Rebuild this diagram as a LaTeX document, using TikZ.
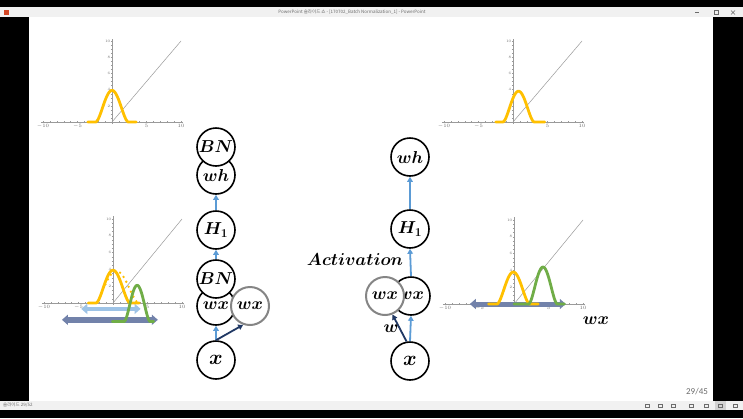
\documentclass[tikz,border=0pt]{standalone}
\usepackage{amsmath}
\usepackage{fontspec}
\newfontfamily\cjk{Noto Sans CJK KR}
\newfontfamily\uifont{Carlito}
\usetikzlibrary{arrows.meta}
\definecolor{cyellow}{HTML}{FFC000}
\definecolor{cgreen}{HTML}{70AD47}
\definecolor{clblue}{HTML}{9DC3E6}
\definecolor{cslate}{HTML}{7282AA}
\definecolor{cblue}{HTML}{5B9BD5}
\definecolor{cnavy}{HTML}{203864}
\definecolor{cring}{HTML}{858585}
\definecolor{caxis}{HTML}{9A9A9A}
\definecolor{cgrey}{HTML}{6B6B6B}
\definecolor{cbar}{HTML}{F1F1F1}
\definecolor{cred}{HTML}{D24726}
\tikzset{
  neuron/.style={circle, draw=black, line width=1.6pt, fill=white, minimum size=38pt, inner sep=0pt, font=\fontsize{17}{20}\selectfont},
  ghost/.style={neuron, draw=cring, line width=2pt},
  flow/.style={-{Triangle[length=5pt, width=5.5pt]}, draw=cblue, line width=1.8pt},
  wlink/.style={-{Triangle[length=5pt, width=5.5pt]}, draw=cnavy, line width=1.8pt},
  axis/.style={draw=caxis, line width=0.4pt},
  bell/.style={line width=2.8pt, line join=round, line cap=round},
  ticklbl/.style={font=\fontsize{3.6}{4}\selectfont, text=cgrey, inner sep=0.6pt},
  spread/.style={{Triangle[length=6pt, width=10pt]}-{Triangle[length=6pt, width=10pt]}},
  mathlbl/.style={font=\fontsize{#1}{#1}\selectfont, inner sep=0pt},
  mathlbl/.default=17,
  uitext/.style={font=\cjk\fontsize{4.5}{5}\selectfont, text=cgrey, inner sep=0pt},
}
\newcommand\drawaxes[1]{
  \draw[axis] (-10.3,0) -- (10.3,0);
  \draw[axis] (0,-0.2) -- (0,10.3);
  \foreach \i in {-10,...,10} \draw[axis, line width=0.3pt] (\i,-0.12) -- (\i,0.12);
  \foreach \j in {0.5,1,...,10} \draw[axis, line width=0.3pt] (-0.15,\j) -- (0.15,\j);
  \foreach \i/\n in {-10/a,-5/b,5/c,10/d} \node[ticklbl, below] (#1x\n) at (\i,-0.15) {$\i$};
  \foreach \j in {2,4,...,10} \node[ticklbl, left] (#1y\j) at (-0.15,\j) {\j};
  \draw[axis, line width=0.5pt] (0,0) -- (10,10);
}
% bump: centre, half width, height
\newcommand\bump[3]{(#3)*max(0, 1-((\x-(#1))/(#2))^2)*max(0, 1-((\x-(#1))/(#2))^2)}

\begin{document}
\begin{tikzpicture}[x=1pt, y=-1pt]
  \useasboundingbox (0,0) rectangle (743,418);
  \fill[black] (0,0) rectangle (743,418);
  \fill[cbar] (0,7) rectangle (743,17);
  \fill[white] (29,17) rectangle (713,401);
  \fill[cbar] (0,401) rectangle (743,410);
  \fill[cred] (4,9.5) rectangle (9,15);
  \node[uitext] (wintitle) at (352,12) {PowerPoint 슬라이드 쇼 - [170702\_Batch Normalization\_1] - PowerPoint};
  \draw[cgrey, line width=0.4pt] (695,12.5) -- (699,12.5);
  \draw[cgrey, line width=0.4pt] (714,10.5) rectangle (718,14.5);
  \draw[cgrey, line width=0.4pt] (731,10.5) -- (735,14.5) (731,14.5) -- (735,10.5);
  \node[uitext, anchor=west] (status) at (3,405.5) {슬라이드 29/52};
  \fill[gray!35] (715,401) rectangle (726,410);
  \foreach \xx in {647,660,673,691,706,720,735} \draw[cgrey, line width=0.4pt] (\xx-2,403.7) rectangle (\xx+2,407.3);
  \node[font=\uifont\fontsize{9}{10}\selectfont, text=cgrey, inner sep=0pt] (pageno) at (697,392) {29/45};

  \begin{scope}[xshift=112pt, yshift=-122pt, x=6.9pt, y=8.1pt]
    \drawaxes{pa}
    \draw[bell, cyellow] plot[domain=-3.5:3.5, samples=141] (\x, {\bump{0}{2.4}{3.9}});
  \end{scope}

  \begin{scope}[xshift=513pt, yshift=-122pt, x=6.9pt, y=8.1pt]
    \drawaxes{pb}
    \draw[bell, cyellow] plot[domain=-2.5:4.6, samples=143] (\x, {\bump{0.8}{2.3}{3.8}});
  \end{scope}

  \begin{scope}[xshift=113pt, yshift=-303pt, x=6.9pt, y=8.4pt]
    \drawaxes{pc}
    \draw[spread, clblue, line width=4pt] (-4.6,-0.7) -- (4.0,-0.7);
    \draw[bell, cyellow] plot[domain=-3.6:3.8, samples=149] (\x, {\bump{0}{2.5}{3.9}});
    \draw[cyellow, line width=2.6pt, line cap=round, dash pattern=on 0pt off 5.5pt] plot[domain=-1.1:3.6, samples=60, smooth] (\x, {\bump{0.5}{3.3}{3.8}});
    \draw[spread, cslate, line width=6pt] (-7.4,-2.0) -- (6.5,-2.0);
    \draw[bell, cgreen] plot[domain=-0.1:5.9, samples=121] (\x, {-2.2+\bump{3.5}{1.9}{4.3}});
  \end{scope}

  \begin{scope}[xshift=514pt, yshift=-304pt, x=6.9pt, y=8.4pt]
    \drawaxes{pd}
    \draw[spread, cslate, line width=5pt] (-6.4,0) -- (7.5,0);
    \draw[bell, cyellow] plot[domain=-3.7:3.5, samples=145] (\x, {\bump{-0.1}{2.4}{3.8}});
    \draw[bell, cgreen] plot[domain=0:7.3, samples=147] (\x, {\bump{4.2}{2.1}{4.4}});
  \end{scope}

  \node[neuron] (wha) at (216,175) {$\boldsymbol{wh}$};
  \node[neuron] (bnb) at (216,147) {$\boldsymbol{BN}$};
  \node[neuron] (h1a) at (216,230) {$\boldsymbol{H_1}$};
  \node[neuron] (wxa) at (216,306) {$\boldsymbol{wx}$};
  \node[neuron] (bna) at (216,279) {$\boldsymbol{BN}$};
  \node[ghost] (wxga) at (250,306) {$\boldsymbol{wx}$};
  \node[neuron, font=\fontsize{22}{24}\selectfont] (xa) at (216,360) {$\boldsymbol{x}$};
  \draw[flow] (h1a.north) -- (wha.south);
  \draw[flow] (bna.north) -- (h1a.south);
  \draw[flow] (xa.north) -- (wxa.south);
  \draw[wlink] (xa.north) -- (wxga.250);

  \node[neuron] (whb) at (410,157) {$\boldsymbol{wh}$};
  \node[neuron] (h1b) at (410,229) {$\boldsymbol{H_1}$};
  \node[neuron] (wxb) at (411,296) {$\boldsymbol{wx}$};
  \node[ghost] (wxgb) at (385,296) {$\boldsymbol{wx}$};
  \node[neuron, font=\fontsize{22}{24}\selectfont] (xb) at (410,361) {$\boldsymbol{x}$};
  \draw[flow] (h1b.north) -- (whb.south);
  \draw[flow] (wxb.north) -- (h1b.south);
  \draw[flow] (xb.north) -- (wxb.south);
  \draw[wlink] (xb.100) -- (wxgb.292);
  \node[mathlbl=16] (act) at (355,260) {$\boldsymbol{Activation}$};
  \node[mathlbl=16] (wlbl) at (391,329) {$\boldsymbol{w}$};
  \node[mathlbl=18] (wxlbl) at (596,321) {$\boldsymbol{wx}$};
\end{tikzpicture}
\end{document}
